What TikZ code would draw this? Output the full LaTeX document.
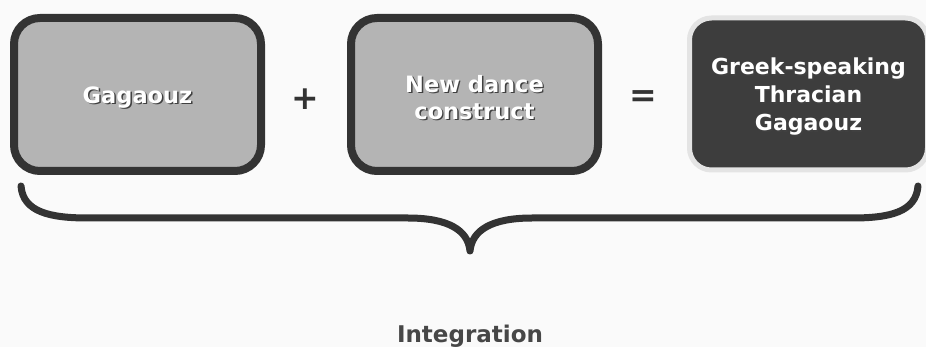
\documentclass[tikz,border=0pt]{standalone}
\usepackage{fontspec}
\setmainfont{DejaVu Sans}
\definecolor{rimgray}{HTML}{333333}
\definecolor{boxgray}{HTML}{B4B4B4}
\definecolor{darkbox}{HTML}{3D3D3D}
\definecolor{halogray}{HTML}{E4E4E4}
\definecolor{labelgray}{HTML}{474747}
\newcommand\shtxt[1]{\raisebox{-3.5pt}[\height][\depth]{\makebox[0pt][l]{\hspace{1.4pt}\raisebox{-1.4pt}{\color{black!75}#1}}#1}}
\tikzset{
  partbox/.style={draw=rimgray,line width=8pt,fill=boxgray,rounded corners=26pt,
    minimum width=247pt,minimum height=153pt,inner sep=0pt,align=center,
    text=white,font=\bfseries\fontsize{22.5}{27}\selectfont},
  resultbox/.style={partbox,draw=halogray,line width=5pt,fill=darkbox,
    rounded corners=22pt,minimum width=238pt,minimum height=152pt,
    font=\bfseries\fontsize{22}{28}\selectfont},
  sign/.style={text=rimgray,font=\bfseries\fontsize{33}{33}\selectfont,inner sep=0pt}
}
\begin{document}
\begin{tikzpicture}[x=1pt,y=-1pt]
	\fill[white!98!black] (0,0) rectangle (926,347);
	\useasboundingbox (0,0) rectangle (926,347);
	\node[partbox] (gag) at (137.5,94.5) {\shtxt{Gagaouz}};
	\node[sign] (plus) at (305,99) {+};
	\node[partbox] (dance) at (474.5,94.5) {\shtxt{New dance}\\\shtxt{construct}};
	\node[sign] (eq) at (643,99) {=};
	\node[resultbox] (greek) at (808.5,94) {\shtxt{Greek-speaking}\\\shtxt{Thracian}\\\shtxt{Gagaouz}};
	% the brace under the three boxes
	\coordinate (bl) at (21,186);
	\coordinate (tip) at (470,251);
	\coordinate (br) at (918,186);
	\draw[rimgray,line width=7pt,line cap=round,line join=round]
		(bl) .. controls (23,212) and (50,218) .. (88,218) -- (408,218)
		.. controls (448,218) and (468,230) .. (tip)
		.. controls (472,230) and (492,218) .. (532,218) -- (852,218)
		.. controls (890,218) and (916,212) .. (br);
	\node[anchor=base,text=labelgray,font=\bfseries\fontsize{23}{23}\selectfont] (integ) at (470,342) {Integration};
\end{tikzpicture}
\end{document}
